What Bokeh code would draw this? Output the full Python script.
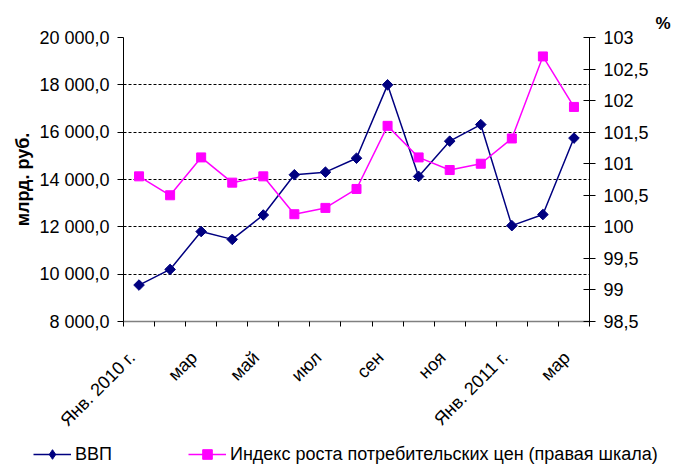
import numpy as np
from bokeh.plotting import figure
from bokeh.models import (Range1d, LinearAxis, FixedTicker, CustomJSTickFormatter,
                          Legend, LegendItem, Title, ColumnDataSource)
from bokeh.embed import file_html
from bokeh.resources import INLINE

months = ["Янв. 2010 г.", "фев", "мар", "апр", "май", "июн", "июл", "авг", "сен",
          "окт", "ноя", "дек", "Янв. 2011 г.", "фев", "мар"]
gdp = [9540, 10200, 11800, 11470, 12500, 14200, 14310, 14900, 18000,
       14130, 15620, 16320, 12050, 12520, 15750]
cpi = [100.8, 100.5, 101.1, 100.7, 100.8, 100.2, 100.3, 100.6, 101.6,
       101.1, 100.9, 101.0, 101.4, 102.7, 101.9]
left_ticks = [8000, 10000, 12000, 14000, 16000, 18000, 20000]
right_ticks = [98.5, 99, 99.5, 100, 100.5, 101, 101.5, 102, 102.5, 103]
label_every = 2
gdp_name = "ВВП"
cpi_name = "Индекс роста потребительских цен (правая шкала)"

FONT = "Liberation Sans"
GDP_COLOR = "#000080"
CPI_COLOR = "#FF00FF"
idx = list(range(len(months)))
src = ColumnDataSource(dict(x=idx, gdp=gdp, cpi=cpi))

p = figure(width=673, height=442, output_backend="svg", toolbar_location=None,
           x_range=Range1d(-0.5, len(months) - 0.5),
           y_range=Range1d(left_ticks[0], left_ticks[-1]),
           min_border_left=123, min_border_right=84, min_border_top=37, min_border_bottom=121)
p.extra_y_ranges = {"right": Range1d(right_ticks[0], right_ticks[-1])}
p.outline_line_color = None
p.background_fill_color = "white"

# x axis
xax = p.xaxis[0]
xax.ticker = FixedTicker(ticks=idx[::label_every],
                         minor_ticks=[i - 0.5 for i in range(len(months) + 1)])
xax.major_label_overrides = {i: months[i] + "\u00a0\u00a0" for i in idx[::label_every]}
xax.major_label_orientation = np.pi / 4
xax.major_tick_out = 0
xax.major_tick_in = 0
xax.minor_tick_out = 5
xax.minor_tick_in = 0
xax.minor_tick_line_color = "black"
xax.axis_line_color = "#808080"
xax.axis_line_width = 1.5
xax.major_label_text_font = FONT
xax.major_label_text_font_size = "18px"
xax.major_label_text_color = "black"
xax.major_label_standoff = 21

# left axis
yax = p.yaxis[0]
yax.ticker = FixedTicker(ticks=left_ticks)
yax.formatter = CustomJSTickFormatter(code="""
    const s = Math.round(tick).toString().replace(/\\B(?=(\\d{3})+(?!\\d))/g, ' ');
    return s + ',0';
""")
yax.major_tick_out = 6
yax.major_tick_in = 0
yax.minor_tick_out = 0
yax.minor_tick_in = 0
yax.axis_line_color = "black"
yax.major_tick_line_color = "black"
yax.major_label_text_font = FONT
yax.major_label_text_font_size = "18px"
yax.major_label_text_color = "black"
yax.major_label_standoff = 8
yax.axis_label = "млрд. руб."
yax.axis_label_text_font = FONT
yax.axis_label_text_font_size = "18px"
yax.axis_label_text_font_style = "bold"
yax.axis_label_text_color = "black"
yax.axis_label_standoff = 3

# right axis
rax = LinearAxis(y_range_name="right", ticker=FixedTicker(ticks=right_ticks))
rax.formatter = CustomJSTickFormatter(code="return String(tick).replace('.', ',');")
rax.major_tick_out = 6
rax.major_tick_in = 6
rax.minor_tick_out = 0
rax.minor_tick_in = 0
rax.axis_line_color = "black"
rax.major_tick_line_color = "black"
rax.major_label_text_font = FONT
rax.major_label_text_font_size = "18px"
rax.major_label_text_color = "black"
rax.major_label_standoff = 8
p.add_layout(rax, "right")

# grid
p.xgrid.visible = False
p.ygrid.ticker = FixedTicker(ticks=left_ticks[1:])
p.ygrid.grid_line_color = "black"
p.ygrid.grid_line_dash = "3 2"
p.ygrid.grid_line_width = 1

# series
p.line("x", "gdp", source=src, line_color=GDP_COLOR, line_width=1.5)
p.scatter("x", "gdp", source=src, marker="square", angle=np.pi / 4, size=7.5,
          fill_color=GDP_COLOR, line_color=GDP_COLOR)
p.line("x", "cpi", source=src, y_range_name="right", line_color=CPI_COLOR, line_width=1.5)
p.scatter("x", "cpi", source=src, y_range_name="right", marker="square", size=9,
          fill_color=CPI_COLOR, line_color=CPI_COLOR)

pct = Title(text="%", align="right", offset=-81, text_font=FONT, text_font_size="17px",
            text_font_style="bold", text_color="black")
p.add_layout(pct, "above")

# legend strip: a second root placed under the chart; its frame spans the full width.
# Its series use the same styles; their values lie outside its (0, 1) view.
lg = figure(width=673, height=24, output_backend="svg", toolbar_location=None,
            x_axis_type=None, y_axis_type=None,
            x_range=Range1d(-0.5, len(months) - 0.5), y_range=Range1d(0, 1),
            min_border_left=0, min_border_right=0, min_border_top=0, min_border_bottom=0)
lg.grid.visible = False
lg.outline_line_color = None
g1l = lg.line("x", "gdp", source=src, line_color=GDP_COLOR, line_width=1.5)
g1s = lg.scatter("x", "gdp", source=src, marker="diamond", size=10,
                 fill_color=GDP_COLOR, line_color=GDP_COLOR)
g2l = lg.line("x", "cpi", source=src, line_color=CPI_COLOR, line_width=1.5)
g2s = lg.scatter("x", "cpi", source=src, marker="square", size=9,
                 fill_color=CPI_COLOR, line_color=CPI_COLOR)
legend = Legend(items=[LegendItem(label=gdp_name, renderers=[g1l, g1s]),
                       LegendItem(label=cpi_name, renderers=[g2l, g2s])],
                orientation="horizontal", location=(33, 0),
                padding=0, margin=0, spacing=76, glyph_width=38, glyph_height=24,
                label_height=20, label_standoff=4,
                label_text_font=FONT, label_text_font_size="18px", label_text_color="black",
                border_line_color=None, background_fill_alpha=0)
lg.add_layout(legend)

open("out.html", "w").write(file_html([p, lg], INLINE))
